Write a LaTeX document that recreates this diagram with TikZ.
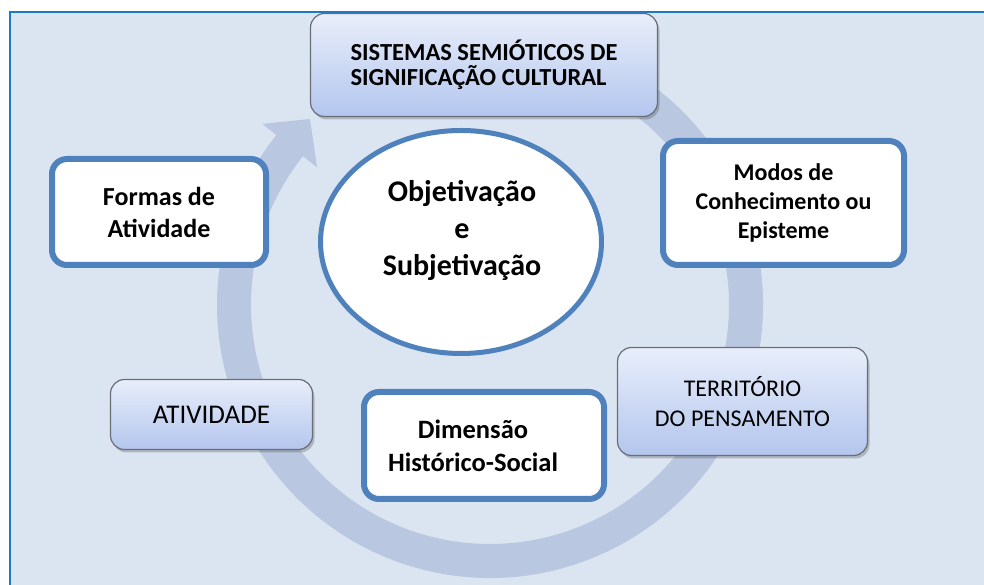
\documentclass[tikz,border=0pt]{standalone}
\usepackage{fontspec}
\setmainfont{Carlito}
\usetikzlibrary{shapes.geometric,shadows}
\definecolor{bgc}{RGB}{219,229,241}
\definecolor{framec}{RGB}{30,120,200}
\definecolor{ringc}{RGB}{185,199,224}
\definecolor{bluec}{RGB}{79,129,189}
\definecolor{gtop}{RGB}{232,238,250}
\definecolor{gbot}{RGB}{180,198,238}
\definecolor{grayb}{RGB}{105,110,120}
\begin{document}
\begin{tikzpicture}[x=1pt,y=1pt,
  gradbox/.style={rectangle, rounded corners=14pt, draw=grayb, line width=1.2pt,
    top color=gtop, bottom color=gbot,
    drop shadow={shadow xshift=2pt, shadow yshift=-3pt, opacity=0.3, fill=black!70},
    inner sep=0pt, align=center, text=black},
  bluebox/.style={rectangle, rounded corners=15pt, draw=bluec, line width=6pt,
    fill=white, inner sep=0pt, align=center}
]
\useasboundingbox (0,0) rectangle (984,585);
\clip (0,0) rectangle (984,585);
% background frame
\fill[bgc] (10,-10) rectangle (1000,573);
\draw[framec, line width=2pt] (10,-10) -- (10,573) -- (1000,573);

% circular arrow
\coordinate (rc) at (490,280);
\fill[ringc, shift={(rc)}] (75:273) arc[start angle=75, end angle=-218.5, radius=273]
  -- (141.5:291) -- (-180,186) -- (141.5:221) -- (141.5:239)
  arc[start angle=-218.5, end angle=75, radius=239] -- cycle;

% boxes
\node[gradbox, minimum width=347, minimum height=103,
  font=\fontsize{24.5}{25}\selectfont\bfseries, align=left] (sis) at (484,520)
  {SISTEMAS SEMIÓTICOS DE\\SIGNIFICAÇÃO CULTURAL};

\node[bluebox, minimum width=214, minimum height=106, font=\fontsize{26}{32}\selectfont\bfseries] (formas) at (159,373)
  {Formas de\\Atividade};

\node[ellipse, draw=bluec, line width=5pt, fill=white, minimum width=281, minimum height=223,
  inner sep=0pt] (obj) at (461,343) {};
\node[font=\fontsize{30}{37}\selectfont\bfseries, align=center, inner sep=0pt] (objt)
  at ([xshift=1pt,yshift=12pt]obj.center) {Objetivação\\e\\Subjetivação};

\node[bluebox, minimum width=241, minimum height=124, font=\fontsize{24}{29}\selectfont\bfseries] (modos) at (783.5,382)
  {Modos de\\Conhecimento ou\\Episteme};

\node[gradbox, minimum width=250, minimum height=108, font=\fontsize{24}{30}\selectfont] (terr) at (742.5,183.5)
  {TERRITÓRIO\\DO PENSAMENTO};

\node[gradbox, minimum width=202, minimum height=70, font=\fontsize{27}{30}\selectfont] (ativ) at (211.5,170.5)
  {ATIVIDADE};

\node[bluebox, minimum width=240, minimum height=107] (dim) at (484,139.5) {};
\node[font=\fontsize{26.5}{33}\selectfont\bfseries, align=center, inner sep=0pt] (dimt)
  at ([xshift=-11pt]dim.center) {Dimensão\\Histórico-Social};
\end{tikzpicture}
\end{document}
